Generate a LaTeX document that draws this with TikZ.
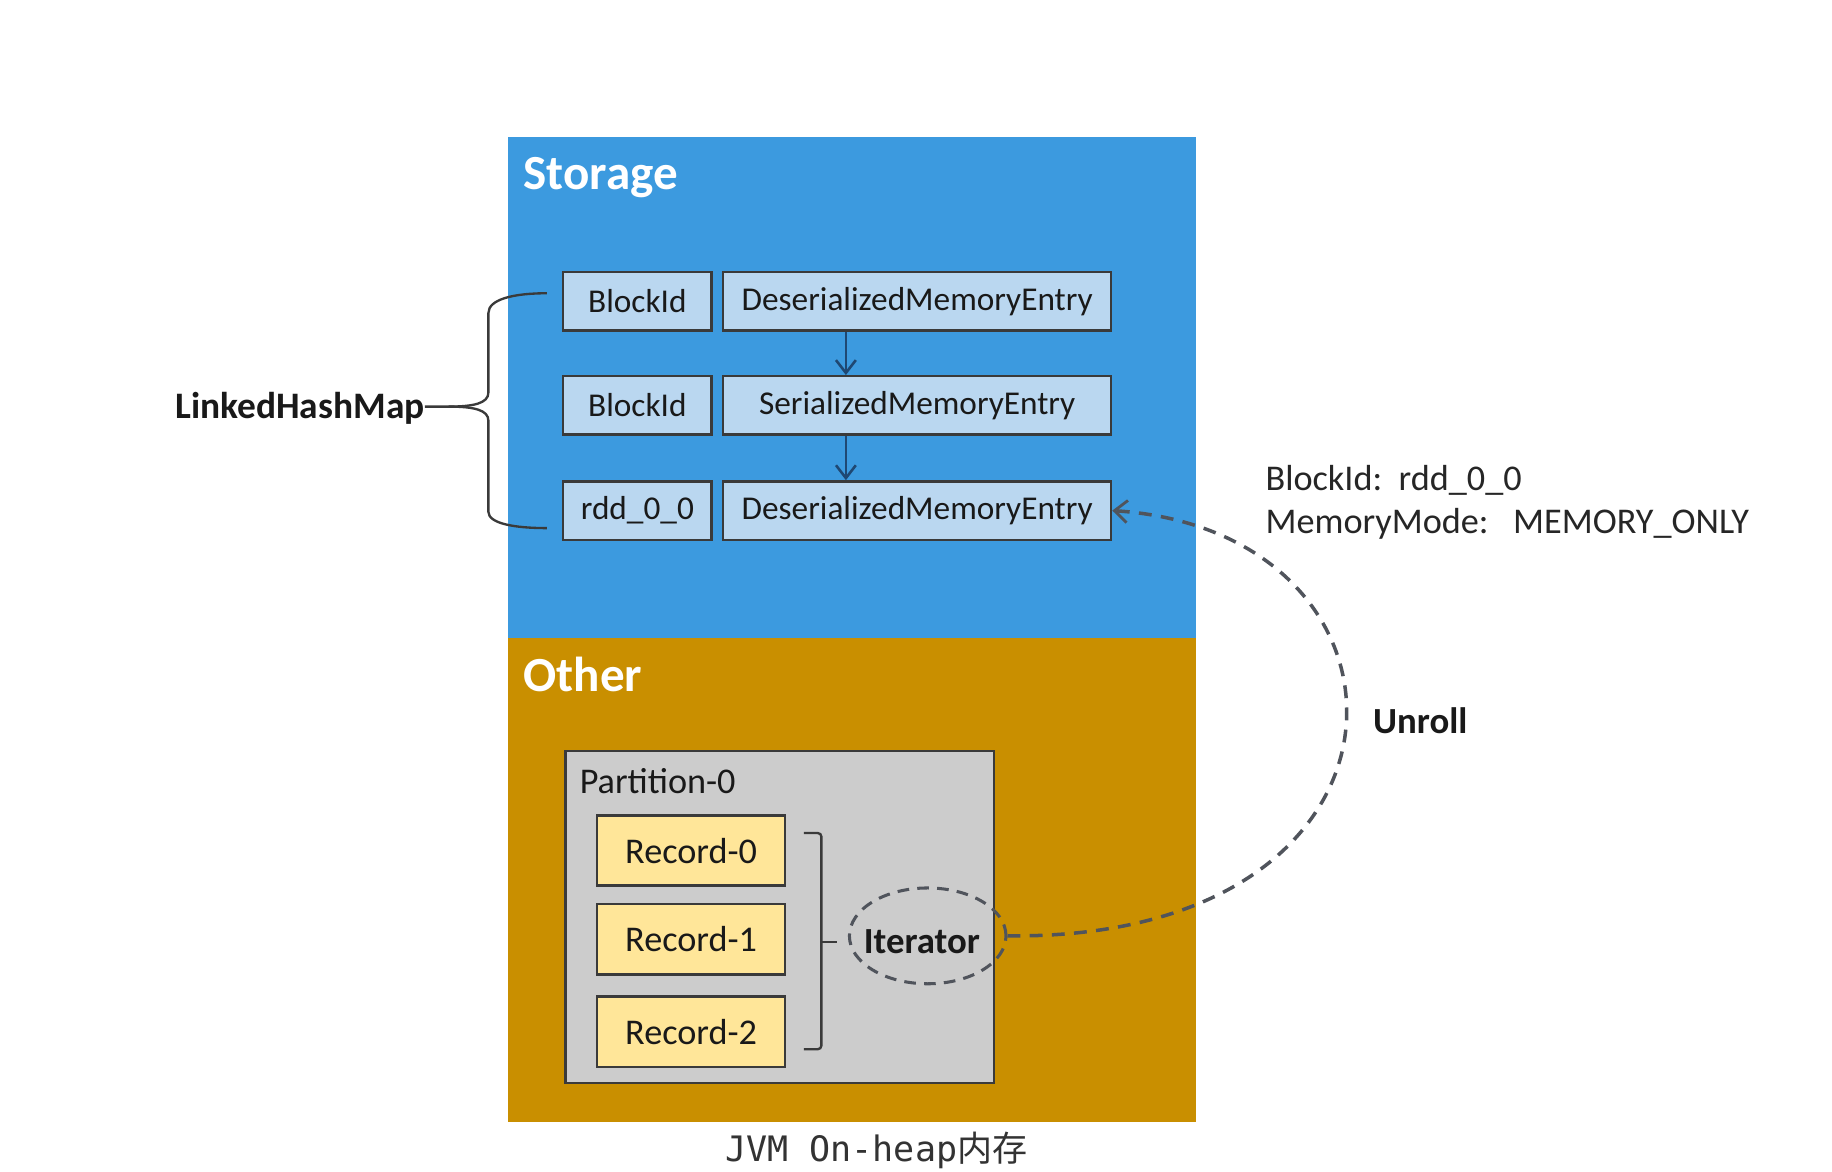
\documentclass[tikz,border=0pt]{standalone}
\usepackage{fontspec}
\setmainfont{Carlito}
\newfontfamily\monof{DejaVu Sans Mono}
\newfontfamily\cjkf{Noto Sans CJK SC}
\usetikzlibrary{arrows.meta,calc,shapes.geometric}
\definecolor{storageblue}{RGB}{60,154,223}
\definecolor{othergold}{RGB}{201,143,0}
\definecolor{lightbox}{RGB}{186,215,240}
\definecolor{recyellow}{RGB}{255,230,153}
\definecolor{partgray}{RGB}{204,204,204}
\definecolor{edgegray}{RGB}{58,58,58}
\definecolor{arrowblue}{RGB}{31,72,115}
\definecolor{dashgray}{RGB}{80,84,92}
\tikzset{
  region/.style={fill=#1, draw=none, inner sep=0, outer sep=0},
  title/.style={anchor=base west, inner sep=0, text=white, font=\fontsize{42}{48}\selectfont\bfseries},
  lbox/.style={draw=edgegray, line width=2pt, fill=lightbox, inner sep=0, minimum height=50pt, font=\fontsize{28.5}{34}\selectfont, text=black!90},
  recbox/.style={draw=edgegray, line width=2pt, fill=recyellow, inner sep=0, minimum width=161pt, minimum height=60pt, font=\fontsize{31}{36}\selectfont, text=black!90},
  plain/.style={anchor=base west, inner sep=0, font=\fontsize{31}{36}\selectfont, text=black!85},
  boldlbl/.style={inner sep=0, font=\fontsize{31.5}{36}\selectfont\bfseries, text=black!90},
  flow/.style={draw=arrowblue, line width=2.4pt, -{Straight Barb[length=11pt,width=17pt,line width=2.2pt]}},
  bracestyle/.style={draw=edgegray, line width=2pt},
  dashline/.style={draw=dashgray, line width=3pt, dash pattern=on 11pt off 8pt},
}
\begin{document}
\begin{tikzpicture}[x=1pt, y=-1pt]
\useasboundingbox[fill=white] (0,0) rectangle (1568,1003);
% regions
\node[region=storageblue, minimum width=589pt, minimum height=429pt] (storage) at (729.5,331.5) {};
\node[region=othergold, minimum width=589pt, minimum height=414pt] (other) at (729.5,753) {};
\node[title] (storaget) at (448,162) {Storage};
\node[title] (othert) at (448,592) {Other};
% map entries
\node[lbox, minimum width=127pt] (b1) at (545.5,258) {BlockId};
\node[lbox, minimum width=332pt] (d1) at (785,258) {DeserializedMemoryEntry};
\node[lbox, minimum width=127pt] (b2) at (545.5,347) {BlockId};
\node[lbox, minimum width=332pt] (d2) at (785,347) {SerializedMemoryEntry};
\node[lbox, minimum width=127pt] (b3) at (545.5,437) {rdd\_0\_0};
\node[lbox, minimum width=332pt] (d3) at (785,437) {DeserializedMemoryEntry};
\coordinate (ax) at (724,0);
\draw[flow] (d1.south -| ax) -- (d2.north -| ax);
\draw[flow] (d2.south -| ax) -- (d3.north -| ax);
% LinkedHashMap brace
\node[anchor=base west, inner sep=0, font=\fontsize{32}{38}\selectfont\bfseries, text=black!90] (lhm) at (150,358) {LinkedHashMap};
\coordinate (tip) at (384,348);
\coordinate (btop) at (468,251);
\coordinate (bbot) at (468,452);
\draw[bracestyle] (lhm.east |- tip) -- (tip) .. controls (406,348) and (418,345) .. (418,336) -- (418,268) .. controls (418,256) and (440,251) .. (btop);
\draw[bracestyle] (tip) .. controls (406,348) and (418,351) .. (418,360) -- (418,438) .. controls (418,448) and (440,452) .. (bbot);
% annotation
\node[plain] (ann1) at (1083,420) {BlockId:\ \ rdd\_0\_0};
\node[plain] (ann2) at (1083,457) {MemoryMode:\ \ \ MEMORY\_ONLY};
\node[boldlbl, anchor=base west] (unroll) at (1175,628) {Unroll};
% partition
\node[draw=edgegray, line width=2pt, fill=partgray, minimum width=367pt, minimum height=284pt, inner sep=0] (part) at (667.5,785) {};
\node[anchor=base west, inner sep=0, font=\fontsize{31}{36}\selectfont, text=black!90] (partt) at (496,679) {Partition-0};
\node[recbox] (r0) at (591.5,728) {Record-0};
\node[recbox] (r1) at (591.5,804) {Record-1};
\node[recbox] (r2) at (591.5,883) {Record-2};
\coordinate (bt) at (688,713);
\coordinate (bb) at (688,898);
\coordinate (bm) at (703,806);
\coordinate (bmr) at (716,806);
\draw[bracestyle, rounded corners=3pt] (bt) -- (703,713) -- (703,898) -- (bb);
\draw[bracestyle] (bm) -- (bmr);
\node[ellipse, draw=dashgray, line width=2.6pt, dash pattern=on 10pt off 7pt, minimum width=134pt, minimum height=82pt, inner sep=0] (it) at (794,801) {};
\node[boldlbl] (itx) at (789,806) {Iterator};
% unroll curve
\draw[dashline, -{Straight Barb[length=11pt,width=19pt,line width=2.4pt]}] (it.east) .. controls (1235,805) and (1230,455) .. (d3.east);
% caption
\node[anchor=base, inner sep=0, text=black!80, font=\fontsize{30}{34}\selectfont] (jvm) at (750,994) {\monof JVM On-heap\cjkf 内存};
\end{tikzpicture}
\end{document}
